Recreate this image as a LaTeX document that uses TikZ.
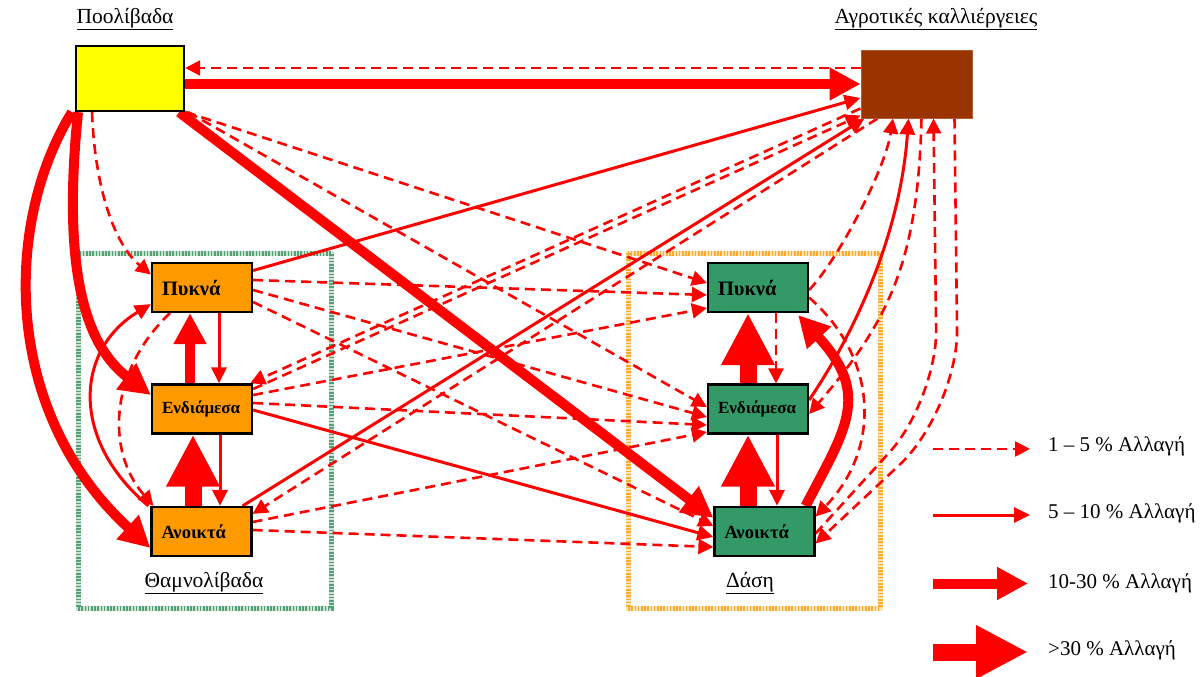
\documentclass[tikz,border=0pt]{standalone}
\usepackage{fontspec}
\setmainfont{Liberation Serif}
\usetikzlibrary{arrows.meta}
\pgfdeclarelayer{framelayer}
\pgfdeclarelayer{linklayer}
\pgfsetlayers{framelayer,linklayer,main}
\definecolor{myred}{RGB}{255,0,0}
\definecolor{poolyellow}{RGB}{255,255,0}
\definecolor{agrobrown}{RGB}{153,51,0}
\definecolor{agroedge}{RGB}{180,90,50}
\definecolor{shruborange}{RGB}{255,153,0}
\definecolor{forestfill}{RGB}{51,153,102}
\definecolor{hatchgreen}{RGB}{80,160,115}
\definecolor{hatchorange}{RGB}{255,170,40}
\begin{document}
\begin{tikzpicture}[x=1pt,y=-1pt,
  titlelabel/.style={font=\fontsize{21.5pt}{25pt}\selectfont, inner sep=0pt},
  legendlabel/.style={font=\fontsize{21pt}{25pt}\selectfont, anchor=west, inner sep=0pt},
  classbox/.style={draw=black, line width=2.2pt, minimum height=49pt, text width=80pt,
     inner xsep=10pt, inner ysep=0pt, align=left, font=\bfseries},
  leftbox/.style={classbox, fill=shruborange},
  rightbox/.style={classbox, fill=forestfill},
  dashedlink/.style={draw=myred, line width=2.6pt, dash pattern=on 10pt off 6pt,
     -{Triangle[length=15pt,width=15pt]}},
  thinlink/.style={draw=myred, line width=3pt, -{Triangle[length=16pt,width=15pt]}},
  medlink/.style={draw=myred, line width=10pt, -{Triangle[length=31pt,width=31pt]}},
  biglink/.style={draw=myred, line width=17pt, -{Triangle[length=52pt,width=50pt]}},
  greenframe/.style={draw=hatchgreen, line width=5pt, dash pattern=on 1.6pt off 1.6pt},
  greenframebase/.style={draw=hatchgreen!30, line width=5pt},
  orangeframe/.style={draw=hatchorange, line width=5pt, dash pattern=on 1.6pt off 1.6pt},
  orangeframebase/.style={draw=hatchorange!30, line width=5pt}
]
\useasboundingbox (0,0) rectangle (1203,677);

% frames
\begin{pgfonlayer}{framelayer}
\draw[greenframebase] (78,253) rectangle (331,608);
\draw[greenframe] (78,253) rectangle (331,608);
\draw[orangeframebase] (628,253) rectangle (880,608);
\draw[orangeframe] (628,253) rectangle (880,608);
\end{pgfonlayer}

% labels
\node[titlelabel] (pooltitle) at (125,19) {\underline{Ποολίβαδα}};
\node[titlelabel] (agrotitle) at (936,19) {\underline{Αγροτικές καλλιέργειες}};
\node[titlelabel] (shrubtitle) at (204,583) {\underline{Θαμνολίβαδα}};
\node[titlelabel] (foresttitle) at (750,583) {\underline{Δάση}};

% main nodes
\node[draw=black, line width=2.4pt, fill=poolyellow, minimum width=108pt, minimum height=65pt, inner sep=0pt] (pool) at (130,78.5) {};
\node[draw=agroedge, line width=1pt, fill=agrobrown, minimum width=111pt, minimum height=67pt, inner sep=0pt] (agro) at (916.5,84.5) {};

\node[leftbox, font=\bfseries\fontsize{20.5pt}{23pt}\selectfont] (lp) at (202,287.5) {Πυκνά};
\node[leftbox, font=\bfseries\fontsize{17pt}{20pt}\selectfont] (le) at (202,409) {Ενδιάμεσα};
\node[leftbox, font=\bfseries\fontsize{18.5pt}{21pt}\selectfont] (la) at (201.5,531.5) {Ανοικτά};
\node[rightbox, font=\bfseries\fontsize{20.5pt}{23pt}\selectfont] (rp) at (758,287.5) {Πυκνά};
\node[rightbox, font=\bfseries\fontsize{17pt}{20pt}\selectfont] (re) at (758,409) {Ενδιάμεσα};
\node[rightbox, font=\bfseries\fontsize{18.5pt}{21pt}\selectfont] (ra) at (764.5,531.5) {Ανοικτά};

\begin{pgfonlayer}{linklayer}
% Poolivada
\draw[medlink] ([yshift=-5.5pt]pool.east) -- ([yshift=0.5pt]agro.west);
\draw[dashedlink] ([yshift=16.5pt]agro.west) -- ([yshift=10.5pt]pool.east);
\draw[dashedlink] ([xshift=-38pt]pool.south) .. controls (95,190) and (115,245) .. ([yshift=13pt]lp.west);
\draw[medlink] ([xshift=-52pt]pool.south) .. controls (62,270) and (85,345) .. ([yshift=14pt]le.west);
\draw[medlink] ([xshift=-58pt]pool.south) .. controls (5,220) and (0,410) .. ([yshift=-16.5pt]la.west);
\draw[medlink] ([xshift=-6pt]pool.south east) -- ([yshift=-12pt]ra.north west);
\draw[dashedlink] ([xshift=1pt]pool.south east) -- ([yshift=4.5pt]rp.west);
\draw[dashedlink] ([xshift=3pt]pool.south east) -- ([yshift=2pt]re.west);

% left dense
\draw[thinlink] ([yshift=17pt]lp.east) -- ([yshift=-13.5pt]agro.west);
\draw[dashedlink] ([yshift=7.5pt]lp.east) -- ([yshift=-7.5pt]rp.west);
\draw[dashedlink] ([yshift=-2.5pt]lp.east) -- ([yshift=-8pt]re.west);
\draw[dashedlink] ([yshift=-14.5pt]lp.east) -- ([yshift=5.5pt]ra.west);
\draw[thinlink] ([xshift=17pt]lp.south) -- ([xshift=17pt]le.north);
\draw[dashedlink] ([xshift=-32pt]lp.south) .. controls (110,370) and (105,450) .. ([xshift=3pt]la.north west);

% left intermediate
\draw[medlink] ([xshift=-12pt]le.north) -- ([xshift=-12pt]lp.south);
\draw[thinlink] ([xshift=18pt]le.south) -- ([xshift=18.5pt]la.north);
\draw[dashedlink] ([yshift=20pt]le.east) -- ([yshift=3pt]agro.south west);
\draw[dashedlink] ([yshift=10pt]agro.south west) -- ([xshift=-3pt]le.north east);
\draw[dashedlink] ([yshift=14pt]le.east) -- ([yshift=-20.5pt]rp.west);
\draw[dashedlink] ([yshift=6pt]le.east) -- ([yshift=-16pt]re.west);
\draw[thinlink] ([yshift=-1pt]le.east) -- ([yshift=-5.5pt]ra.west);

% left open
\draw[biglink] ([xshift=-8.5pt]la.north) -- ([xshift=-9pt]le.south);
\draw[thinlink] ([xshift=-2pt]la.north west) .. controls (70,440) and (75,350) .. ([yshift=9pt]lp.south west);
\draw[thinlink] ([xshift=-10pt]la.north east) -- ([xshift=4pt]agro.south west);
\draw[dashedlink] ([xshift=17pt]agro.south west) -- ([yshift=-8pt]la.north east);
\draw[dashedlink] ([yshift=9.5pt]la.east) -- ([yshift=-23pt]re.west);
\draw[dashedlink] ([yshift=1.5pt]la.east) -- ([yshift=-15.5pt]ra.west);

% right group
\draw[biglink] ([xshift=-10pt]re.north) -- ([xshift=-10pt]rp.south);
\draw[dashedlink] ([xshift=18pt]rp.south) -- ([xshift=18pt]re.north);
\draw[biglink] ([xshift=-16.5pt]ra.north) -- ([xshift=-10pt]re.south);
\draw[thinlink] ([xshift=19pt]re.south) -- ([xshift=12.5pt]ra.north);
\draw[medlink] ([xshift=-10pt]ra.north east) .. controls (845,430) and (872,395) .. ([xshift=-11pt,yshift=-2pt]rp.south east);
\draw[dashedlink] ([yshift=-2.5pt]rp.east) .. controls (838,260) and (885,170) .. ([xshift=-23.5pt]agro.south);
\draw[thinlink] ([yshift=9pt]re.east) .. controls (850,340) and (900,240) .. ([xshift=-8pt]agro.south);
\draw[dashedlink] ([xshift=5pt]agro.south) .. controls (918,260) and (890,320) .. ([yshift=-5pt]re.east);
\draw[dashedlink] ([yshift=-10pt]rp.east) .. controls (880,360) and (880,450) .. ([yshift=15pt]ra.east);
\draw[dashedlink, rounded corners=70pt] ([yshift=-2pt]ra.east) -- (937,400) -- ([xshift=17pt]agro.south);
\draw[dashedlink, rounded corners=80pt] ([xshift=38pt]agro.south) -- (958,410) -- ([yshift=-12pt]ra.east);
\end{pgfonlayer}

% legend
\coordinate (l1s) at (933,449); \coordinate (l1e) at (1030,449);
\coordinate (l2s) at (933,515); \coordinate (l2e) at (1030,515);
\coordinate (l3s) at (933,583.5); \coordinate (l3e) at (1028,583.5);
\coordinate (l4s) at (933,652); \coordinate (l4e) at (1028,652);
\draw[dashedlink] (l1s) -- (l1e);
\draw[thinlink] (l2s) -- (l2e);
\draw[medlink] (l3s) -- (l3e);
\draw[biglink] (l4s) -- (l4e);
\node[legendlabel] (t1) at (1048,446) {1 – 5 \% Αλλαγή};
\node[legendlabel] (t2) at (1048,513) {5 – 10 \% Αλλαγή};
\node[legendlabel] (t3) at (1048,583) {10-30 \% Αλλαγή};
\node[legendlabel] (t4) at (1048,650) {>30 \% Αλλαγή};
\end{tikzpicture}
\end{document}
